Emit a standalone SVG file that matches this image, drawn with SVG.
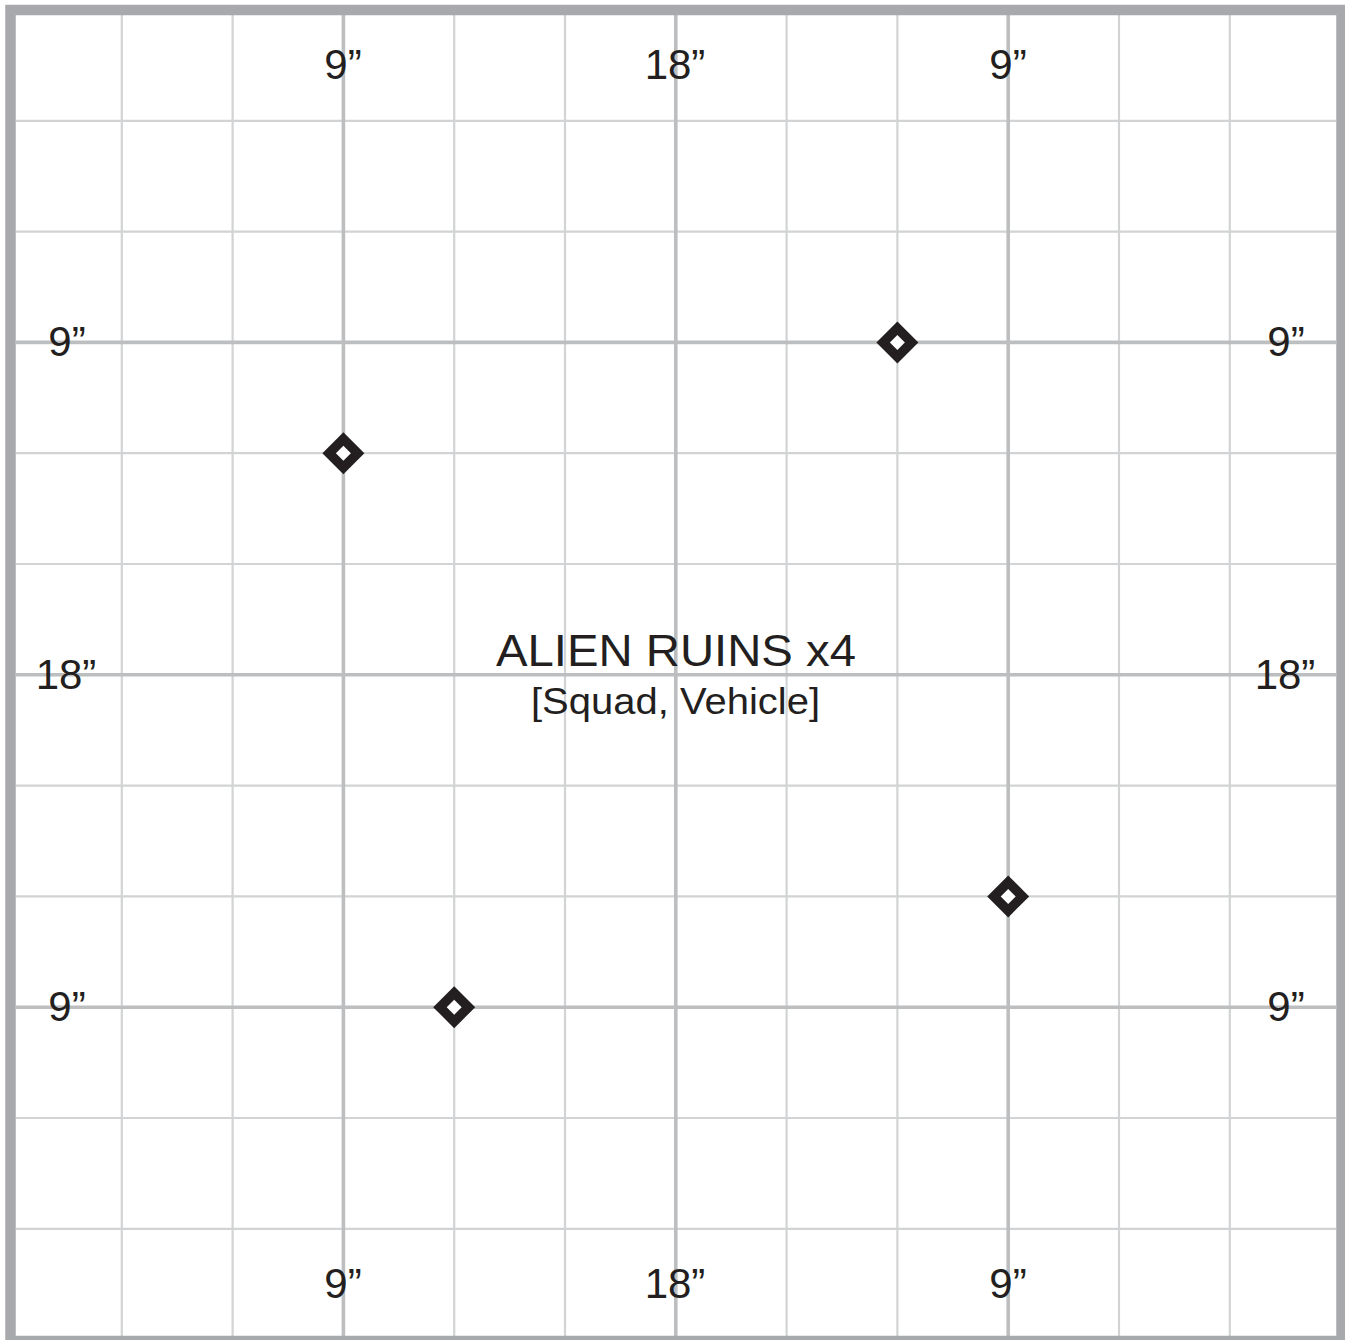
<svg xmlns="http://www.w3.org/2000/svg" width="1345" height="1340" viewBox="0 0 1345 1340">
  <style>
    .minor { stroke: #d1d3d4; stroke-width: 2.2; fill: none; }
    .major { stroke: #bcbec0; stroke-width: 3.6; fill: none; }
    .border { stroke: #a7a9ac; stroke-width: 10.5; fill: none; }
    .lbl { font-family: "Liberation Sans", Arial, sans-serif; font-size: 42px; fill: #231f20; text-anchor: middle; }
    .title { font-family: "Liberation Sans", Arial, sans-serif; fill: #231f20; text-anchor: middle; }
  </style>
  <defs>
    <g id="ruin">
      <path d="M0,-21 L21,0 L0,21 L-21,0 Z" fill="#231f20"/>
      <path d="M0,-7.5 L7.5,0 L0,7.5 L-7.5,0 Z" fill="#ffffff"/>
    </g>
  </defs>
  <rect width="1345" height="1340" fill="#ffffff"/>

  <g id="grid">
    <g class="minor">
      <path d="M121.8,15V1336M232.6,15V1336M454.2,15V1336M565,15V1336M786.6,15V1336M897.4,15V1336M1119,15V1336M1229.8,15V1336"/>
      <path d="M16,120.8H1336M16,231.6H1336M16,453.2H1336M16,564H1336M16,785.6H1336M16,896.4H1336M16,1118H1336M16,1228.8H1336"/>
    </g>
    <g class="major">
      <path d="M343.4,15V1336M675.8,15V1336M1008.2,15V1336"/>
      <path d="M16,342.4H1336M16,674.8H1336M16,1007.2H1336"/>
    </g>
  </g>

  <g id="frame">
    <rect class="border" x="10.5" y="10" width="1331" height="1331"/>
  </g>

  <g id="connectors"></g>

  <g id="labels">
    <g id="label-top-left"><text class="lbl" x="343" y="79">9”</text></g>
    <g id="label-top-center"><text class="lbl" x="675" y="79">18”</text></g>
    <g id="label-top-right"><text class="lbl" x="1008" y="79">9”</text></g>
    <g id="label-bottom-left"><text class="lbl" x="343" y="1298">9”</text></g>
    <g id="label-bottom-center"><text class="lbl" x="675" y="1298">18”</text></g>
    <g id="label-bottom-right"><text class="lbl" x="1008" y="1298">9”</text></g>
    <g id="label-left-top"><text class="lbl" x="67" y="356">9”</text></g>
    <g id="label-left-center"><text class="lbl" x="66" y="689">18”</text></g>
    <g id="label-left-bottom"><text class="lbl" x="67" y="1021">9”</text></g>
    <g id="label-right-top"><text class="lbl" x="1286" y="356">9”</text></g>
    <g id="label-right-center"><text class="lbl" x="1285" y="689">18”</text></g>
    <g id="label-right-bottom"><text class="lbl" x="1286" y="1021">9”</text></g>
  </g>

  <g id="terrain-label">
    <text class="title" x="676" y="666" font-size="45" textLength="360" lengthAdjust="spacingAndGlyphs">ALIEN RUINS x4</text>
    <text class="title" x="675.5" y="714" font-size="36" textLength="289" lengthAdjust="spacingAndGlyphs">[Squad, Vehicle]</text>
  </g>

  <g id="ruin-1"><use href="#ruin" x="343.4" y="453.2"/></g>
  <g id="ruin-2"><use href="#ruin" x="897.4" y="342.4"/></g>
  <g id="ruin-3"><use href="#ruin" x="1008.2" y="896.4"/></g>
  <g id="ruin-4"><use href="#ruin" x="454.2" y="1007.2"/></g>
</svg>
